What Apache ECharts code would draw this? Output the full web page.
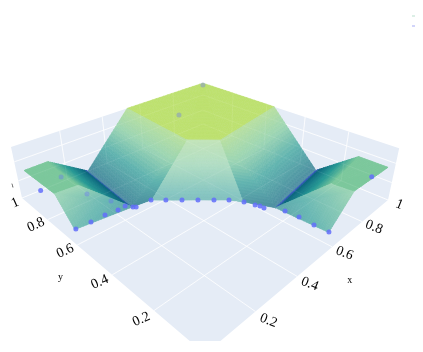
<!DOCTYPE html>
<html><head><meta charset="utf-8">
<style>html,body{margin:0;padding:0;background:#fff}#c{width:423px;height:352px;filter:blur(.55px)}</style>
<script src="https://cdn.jsdelivr.net/npm/echarts@6/dist/echarts.min.js"></script>
</head><body><div id="c"></div>
<script>
// tick labels
const xTicks = [0.2, 0.4, 0.6, 0.8, 1];
const yTicks = [0.2, 0.4, 0.6, 0.8, 1];
const zGrid = [0.35, 0.72];
// surface vertices
const meshX = [1,.53,.5,.59,1, .53,.5,.3,.27,.35, .5,.59,.35,.39,.435,.48,.523,.565,.595, .59,1,1,.65,.595, .03,.13,.12,.03, .3,.27, .04,.27, 1,1,.75,.76, 1,.65, .66,.65];
const meshY = [1,1,.59,.5,.56, 1,.59,1,.65,.637, .59,.5,.637,.597,.553,.51,.467,.427,.377, .5,.56,.32,.27,.377, 1,1,.76,.77, 1,.65, .68,.65, .025,.144,.11,.03, .32,.27, .05,.27];
const meshZ = [1,1,1,1,1, 1,1,0,0,0, 1,1,0,0,0,0,0,0,0, 1,1,0,0,0, .5,.5,.5,.5, 0,0, 0,0, .6,.6,.6,.6, 0,0, 0,0];
const meshC = [1,1,1,1,1, .85,.85,.05,.05,.14, .8,.8,.3,.3,.3,.3,.3,.3,.3, .85,.85,.05,.05,.14, .6,.6,.6,.6, 0,0, .4,.2, .6,.6,.6,.6, 0,0, .4,.2];
const faceI = [0,0,0, 7,7,8, 10,10,10,10,10,11,11, 22,22,23, 24,24, 25,25, 27,27, 32,32, 33,33, 35,35];
const faceJ = [1,2,3, 8,6,9, 12,13,14,15,16,16,17, 21,20,22, 25,26, 28,29, 30,31, 33,34, 36,37, 38,39];
const faceK = [2,3,4, 6,5,6, 13,14,15,16,11,17,18, 20,19,19, 26,27, 29,26, 31,26, 34,35, 37,34, 39,34];
const facePatch = [0,0,0, 1,1,1, 2,2,2,2,2,2,2, 3,3,3, 4,4, 5,5, 6,6, 7,7, 8,8, 9,9];
// scatter points, clearly visible
const ptX = [.044,.105,.166,.219,.254,.271,.28,.079,.35,.391,.435,.479,.523,.565,.595,.61,.618,.618,.658,.663,.66,.663,.93];
const ptY = [.68,.678,.679,.671,.674,.648,.64,1,.637,.597,.553,.51,.467,.427,.377,.335,.318,.299,.232,.174,.109,.051,.05];
const ptZ = [0,0,0,0,0,0,0,0,0,0,0,0,0,0,0,0,0,0,0,0,0,0,.5];
// scatter points seen through the surface
const dimX = [.106,.197,.236,.641,.99];
const dimY = [.857,.847,.74,.786,.99];
const dimZ = [.5,0,0,1,.98];

// view transform of the scene
const V = {a:385.6,b:-171,c:205,d:-49.6,e:-48.1,f:354,g:.5222,h:.5448,q:-.0877,vx:205,vy:1046};
function depth(x,y,z){return V.g*x+V.h*y+V.q*z+1;}
function project(x,y,z){const w=depth(x,y,z);
  return [(V.a*x+V.b*y+V.c+V.vx*V.q*z)/w,(V.d*x+V.e*y+V.f+V.vy*V.q*z)/w];}

// colour ramp for the surface intensity
const ramp = [[0,[74,92,208]],[.07,[14,104,128]],[.35,[42,154,150]],[.6,[124,200,156]],[1,[189,225,111]]];
function rampColor(c){for(let i=1;i<ramp.length;i++){if(c<=ramp[i][0]){const t=(c-ramp[i-1][0])/(ramp[i][0]-ramp[i-1][0]);
  return ramp[i][1].map((v,k)=>ramp[i-1][1][k]+(v-ramp[i-1][1][k])*t);}}return ramp[ramp.length-1][1];}
function faceFacing(i,j,k){
  const u=[meshX[j]-meshX[i],meshY[j]-meshY[i],meshZ[j]-meshZ[i]],v=[meshX[k]-meshX[i],meshY[k]-meshY[i],meshZ[k]-meshZ[i]];
  let n=[u[1]*v[2]-u[2]*v[1],u[2]*v[0]-u[0]*v[2],u[0]*v[1]-u[1]*v[0]];
  const L=Math.hypot(n[0],n[1],n[2])||1;
  n=n.map(a=>a/L);
  if(Math.abs(n[2])<.15){if(n[0]+n[1]>0)n=n.map(a=>-a);}else if(n[2]<0)n=n.map(a=>-a);
  return -n[0]-n[1];
}
const patchWash={};
facePatch.forEach((p,n)=>{(patchWash[p]=patchWash[p]||[]).push(faceFacing(faceI[n],faceJ[n],faceK[n]));});
function washOf(p){const l=patchWash[p];const s=l.reduce((a,b)=>a+b,0)/l.length;return Math.max(0,Math.min(.7,.48*(s-.4)));}
const faces = faceI.map((i,n)=>[i,faceJ[n],faceK[n],facePatch[n]])
  .sort((p,r)=>{const m=f=>f.slice(0,3).reduce((s,t)=>s+depth(meshX[t],meshY[t],meshZ[t]),0);return m(r)-m(p);});

function renderFace(params,api){
  const i=api.value(0),j=api.value(1),k=api.value(2),W=washOf(api.value(3)),N=20,children=[];
  const pt=(a,b,c)=>{const s=a+b+c;a/=s;b/=s;c/=s;
    return api.coord(project(a*meshX[i]+b*meshX[j]+c*meshX[k],a*meshY[i]+b*meshY[j]+c*meshY[k],a*meshZ[i]+b*meshZ[j]+c*meshZ[k]));};
  const col=(a,b,c)=>{const s=a+b+c;const v=(a*meshC[i]+b*meshC[j]+c*meshC[k])/s;const r=rampColor(v);
    const m=[236,245,240];return 'rgb('+r.map((x,q)=>Math.round(x+(m[q]-x)*W)).join(',')+')';};
  const tri=(A,B,C)=>{const c=col(A[0]+B[0]+C[0],A[1]+B[1]+C[1],A[2]+B[2]+C[2]);
    children.push({type:'polygon',shape:{points:[pt(...A),pt(...B),pt(...C)]},style:{fill:c,stroke:c,lineWidth:.6},silent:true});};
  for(let a=0;a<N;a++)for(let b=0;b<N-a;b++){const c=N-a-b;
    tri([a,b,c],[a+1,b,c-1],[a,b+1,c-1]);
    if(c>=2)tri([a+1,b,c-1],[a+1,b+1,c-2],[a,b+1,c-1]);}
  return {type:'group',children};
}
function poly(api,pts){return {type:'polygon',shape:{points:pts.map(p=>api.coord(project(p[0],p[1],p[2])))},style:{fill:'#e5ecf6'},silent:true};}
function line(api,p,q,alpha){const A=api.coord(project(...p)),B=api.coord(project(...q));
  return {type:'line',shape:{x1:A[0],y1:A[1],x2:B[0],y2:B[1]},style:{stroke:'rgba(255,255,255,'+alpha+')',lineWidth:.8},silent:true};}
function gridLines(api,alpha){const out=[];
  xTicks.forEach(t=>{out.push(line(api,[t,0,0],[t,1,0],alpha));if(t<1)out.push(line(api,[t,1,0],[t,1,1],alpha));});
  yTicks.forEach(t=>{out.push(line(api,[0,t,0],[1,t,0],alpha));if(t<1)out.push(line(api,[1,t,0],[1,t,1],alpha));});
  zGrid.forEach(z=>{out.push(line(api,[0,1,z],[1,1,z],alpha));out.push(line(api,[1,1,z],[1,0,z],alpha));});
  return out;}
const base={type:'custom',coordinateSystem:'cartesian2d',clip:true,silent:true,animation:false};
function textItem(api,str,p,rot,size,style){const P=api.coord(project(...p));
  return {type:'text',x:P[0],y:P[1],rotation:rot,style:{text:str,fill:'#000',font:(style||'')+' '+size+'px "Liberation Serif"',align:'center',verticalAlign:'middle'},silent:true};}
const chart=echarts.init(document.getElementById('c'),null,{renderer:'canvas'});
chart.setOption({
  animation:false,
  legend:{show:true,left:412,top:15,orient:'vertical',itemWidth:3,itemHeight:2,itemGap:8,padding:0,formatter:()=>'',selectedMode:false,
    data:[{name:'surface',icon:'rect',itemStyle:{color:'#dcefe6'}},{name:'points',icon:'rect',itemStyle:{color:'#7f86f0'}}],textStyle:{fontSize:1}},
  grid:{left:0,top:0,width:423,height:341},
  xAxis:{type:'value',min:0,max:423,show:false},
  yAxis:{type:'value',min:0,max:341,inverse:true,show:false},
  series:[
    {...base,name:'scene',z:1,data:[[0]],renderItem:(p,api)=>({type:'group',children:[
      poly(api,[[0,0,0],[1,0,0],[1,1,0],[0,1,0]]),
      poly(api,[[0,1,0],[1,1,0],[1,1,1],[0,1,1]]),
      poly(api,[[1,0,0],[1,1,0],[1,1,1],[1,0,1]]),
      ...gridLines(api,1)]})},
    {...base,name:'surface',z:2,itemStyle:{color:'#dcefe6'},data:faces,renderItem:renderFace},
    {...base,name:'gridover',z:3,data:[[0]],renderItem:(p,api)=>({type:'group',children:gridLines(api,.1)})},
    {type:'scatter',name:'points',z:4,symbolSize:5,silent:true,animation:false,itemStyle:{color:'#636efa',opacity:.35},
      data:dimX.map((x,i)=>project(x,dimY[i],dimZ[i]))},
    {type:'scatter',name:'points',z:5,symbolSize:5,silent:true,animation:false,itemStyle:{color:'#636efa',opacity:.85},
      data:ptX.map((x,i)=>project(x,ptY[i],ptZ[i]))},
    {...base,name:'labels',z:6,clip:false,data:[[0]],renderItem:(p,api)=>({type:'group',children:[
      ...xTicks.map(t=>textItem(api,String(t),[t,-.045,0],-.38,14)),
      ...yTicks.map(t=>textItem(api,String(t),[t===1?-.035:-.045,t===1?.985:t,0],.42,14)),
      textItem(api,'x',[.5,-.12,0],0,10),
      textItem(api,'y',[-.12,.5,0],0,10),
      textItem(api,'1',[-.015,1.03,.22],.3,6)
    ]})}
  ]
});
</script></body></html>
